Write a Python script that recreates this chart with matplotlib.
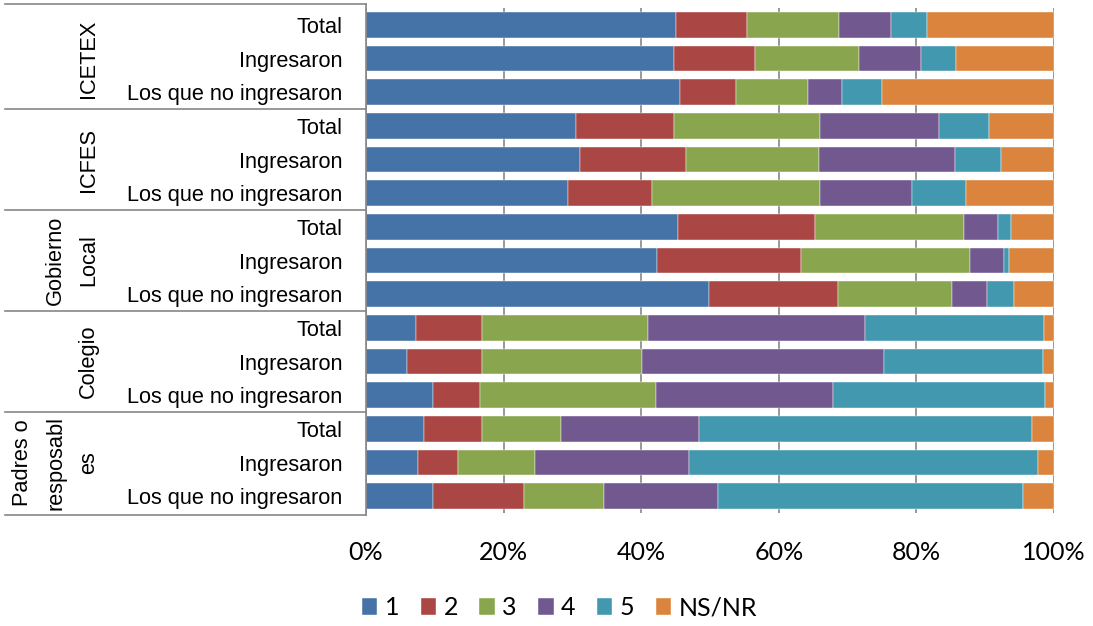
import matplotlib
matplotlib.use("Agg")
import matplotlib.pyplot as plt
from matplotlib.lines import Line2D
from matplotlib.ticker import PercentFormatter
from matplotlib import font_manager

# data (percent of each row)
groups = ["ICETEX", "ICFES", "Gobierno\nLocal", "Colegio", "Padres o\nresposabl\nes"]
rows = ["Total", "Ingresaron", "Los que no ingresaron"]
series_names = ["1", "2", "3", "4", "5", "NS/NR"]

s1 = [45.0, 44.7, 45.6, 30.5, 31.1, 29.4, 45.3, 42.3, 49.9, 7.3, 6.0, 9.7, 8.4, 7.6, 9.7]
s2 = [10.4, 11.8, 8.2, 14.3, 15.4, 12.2, 19.9, 20.9, 18.7, 9.6, 10.9, 6.9, 8.5, 5.7, 13.3]
s3 = [13.4, 15.1, 10.4, 21.2, 19.4, 24.4, 21.7, 24.6, 16.6, 24.1, 23.2, 25.6, 11.4, 11.3, 11.6]
s4 = [7.5, 9.1, 5.0, 17.3, 19.7, 13.4, 5.0, 4.9, 5.1, 31.6, 35.2, 25.7, 20.1, 22.3, 16.6]
s5 = [5.3, 5.0, 5.8, 7.2, 6.7, 7.8, 1.9, 0.8, 3.9, 25.9, 23.1, 30.8, 48.4, 50.8, 44.3]
ns = [18.4, 14.3, 25.0, 9.5, 7.7, 12.8, 6.2, 6.5, 5.8, 1.5, 1.6, 1.3, 3.2, 2.3, 4.5]

colors = ["#4572A7", "#AA4643", "#89A54E", "#71588F", "#4198AF", "#DB843D"]

names = {f.name for f in font_manager.fontManager.ttflist}
if "Liberation Sans Narrow" in names:
    label_font, label_size = "Liberation Sans Narrow", 19
else:
    label_font, label_size = "Liberation Sans", 15.7

fig = plt.figure(figsize=(10.93, 6.26), dpi=100)
ax = fig.add_axes([0.3349, 0.1805, 0.6294, 0.8067])

n = len(groups) * len(rows)
y = list(range(n))
left = [0.0] * n
for vals, name, c in zip([s1, s2, s3, s4, s5, ns], series_names, colors):
    ax.barh(y, vals, left=left, height=0.77, color=c, edgecolor="white",
            linewidth=0.3, label=name, zorder=2)
    left = [a + b for a, b in zip(left, vals)]

ax.set_xlim(0, 100)
ax.set_ylim(n - 0.5, -0.5)
ax.set_xticks([0, 20, 40, 60, 80, 100])
ax.xaxis.set_major_formatter(PercentFormatter(decimals=0))
ax.grid(axis="x", color="#868686", linewidth=1.2, zorder=0)
ax.tick_params(axis="x", length=0, pad=20, labelsize=18)
for t in ax.get_xticklabels():
    t.set_fontfamily("Lato")

ax.set_yticks(y)
ax.set_yticklabels(rows * len(groups), fontfamily=label_font, fontsize=label_size)
ax.tick_params(axis="y", length=0, pad=17)

for s in ["top", "right", "bottom"]:
    ax.spines[s].set_visible(False)
ax.spines["left"].set_color("#868686")
ax.spines["left"].set_linewidth(1.2)
ax.spines["left"].set_bounds(n - 0.45, -0.62)

# group separators and labels
x0 = -361 / 688
for g in range(len(groups) + 1):
    yy = g * 3 - 0.5
    if g == 0:
        yy = -0.62
    if g == len(groups):
        yy = n - 0.45
    ax.add_line(Line2D([x0, 0], [yy, yy], transform=ax.get_yaxis_transform(),
                       color="#868686", linewidth=1.2, clip_on=False))
for g, name in enumerate(groups):
    ax.text(-267 / 688, g * 3 + 1, name, transform=ax.get_yaxis_transform(),
            rotation=90, ha="right", va="center", multialignment="center",
            fontfamily=label_font, fontsize=label_size, linespacing=1.75)

fig.legend(loc="center", bbox_to_anchor=(0.512, 0.029), ncol=6, frameon=False,
           prop={"family": "Lato", "size": 18}, handlelength=0.62, handleheight=0.62,
           handletextpad=0.3, columnspacing=0.85)

fig.savefig("out.png", dpi=100)
